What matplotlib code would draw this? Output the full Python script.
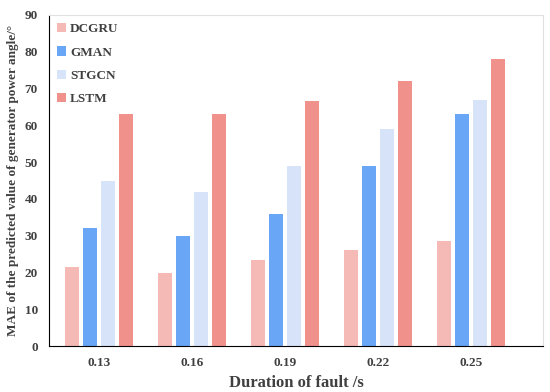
import numpy as np
import matplotlib.pyplot as plt

plt.rcParams['font.family'] = ['Liberation Serif', 'DejaVu Serif']

durations = ['0.13', '0.16', '0.19', '0.22', '0.25']
dcgru = [21.5, 20, 23.5, 26, 28.5]
gman = [32, 30, 36, 49, 63]
stgcn = [45, 42, 49, 59, 67]
lstm = [63, 63, 66.5, 72, 78]

series = [('DCGRU', dcgru, '#f5bab6'),
          ('GMAN', gman, '#6aa6f6'),
          ('STGCN', stgcn, '#d6e3f9'),
          ('LSTM', lstm, '#f1918c')]

fig = plt.figure(figsize=(5.5, 3.92), dpi=100)
ax = fig.add_axes([0.089, 0.117, 0.898, 0.845])

x = np.arange(len(durations))
w = 0.15
step = 0.195
for i, (name, vals, col) in enumerate(series):
    ax.bar(x + (i - 1.5) * step, vals, width=w, color=col, label=name)

ax.set_xlim(-0.54, 4.77)
ax.set_ylim(0, 90)
ax.set_yticks(range(0, 91, 10))
ax.set_xticks(x)
ax.set_xticklabels(durations)
ax.tick_params(length=0, labelsize=9.5, colors='#404040', pad=8)
for t in ax.get_xticklabels() + ax.get_yticklabels():
    t.set_fontweight('bold')

ax.spines['left'].set_color('black')
ax.spines['bottom'].set_color('black')
ax.spines['top'].set_color('#e0e0e0')
ax.spines['right'].set_color('#e0e0e0')

ax.set_xlabel('Duration of fault /s', fontsize=12, fontweight='bold', color='#404040')
ax.set_ylabel('MAE of the predicted value of generator power angle/°', fontsize=9.5,
              fontweight='bold', color='#404040')

leg = ax.legend(loc='upper left', frameon=False, handlelength=0.7, handleheight=0.7,
                handletextpad=0.3, labelspacing=0.85, borderaxespad=0.2,
                prop={'weight': 'bold', 'size': 9.5})
for t in leg.get_texts():
    t.set_color('#404040')

fig.savefig('out.png', dpi=100)
